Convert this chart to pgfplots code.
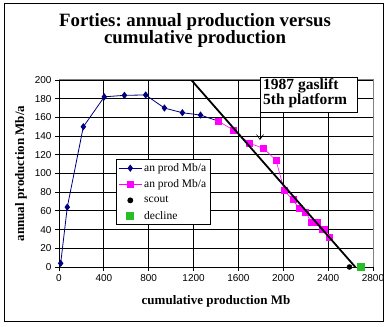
\documentclass[border=0pt]{standalone}
\usepackage{fontspec}
\setmainfont{Liberation Serif}
\setsansfont{Liberation Sans}
\usepackage{pgfplots}
\pgfplotsset{compat=1.18}
\usetikzlibrary{arrows.meta}
\definecolor{navy}{RGB}{0,0,128}
\definecolor{mag}{RGB}{255,0,255}
\definecolor{dgreen}{RGB}{40,190,40}
\frenchspacing
\begin{document}
\begin{tikzpicture}[x=1pt,y=1pt]
\useasboundingbox (0,0) rectangle (390,326);
\draw[line width=1pt] (4,5) rectangle (383,322);
\node[anchor=base, inner sep=0, font=\bfseries\fontsize{18.8}{19}\selectfont] at (195,299) {Forties: annual production versus};
\node[anchor=base, inner sep=0, font=\bfseries\fontsize{18.8}{19}\selectfont] at (195,282) {cumulative production};
\begin{axis}[
  scale only axis, width=314pt, height=187pt,
  anchor=south west, at={(59pt,59pt)},
  xmin=0, xmax=2800, ymin=0, ymax=200,
  xtick={0,400,...,2800}, ytick={0,20,...,200},
  axis x line*=bottom, axis y line*=left,
  axis line style={-, black, line width=0.8pt},
  grid=major, major grid style={black, line width=0.8pt},
  tick align=outside, major tick length=4pt,
  tick style={black, line width=0.8pt},
  /pgf/number format/assume math mode=true,
  /pgf/number format/1000 sep={},
  ticklabel style={font=\sffamily\fontsize{10}{10}\selectfont},
  xlabel={cumulative production Mb},
  ylabel={annual production Mb/a},
  xlabel style={at={(rel axis cs:0.5,-0.182)}, anchor=center, font=\bfseries\fontsize{13}{13}\selectfont},
  ylabel style={at={(rel axis cs:-0.121,0.5)}, anchor=center, font=\bfseries\fontsize{13}{13}\selectfont},
  clip mode=individual,
  legend cell align=left,
  legend image code/.code={\draw[mark repeat=2,mark phase=2] plot coordinates {(0pt,0pt)(11.5pt,0pt)(23pt,0pt)};},
  legend style={at={(rel axis cs:0.1815,0.5775)}, anchor=north west, draw=black, line width=0.8pt, fill=white,
    font=\fontsize{11.5}{12}\selectfont, inner sep=2pt, row sep=3pt},
]
\addplot[navy, line width=0.8pt, mark=diamond*, mark size=3pt, mark options={solid, fill=navy}]
  coordinates {(15,4)(74,64)(217,150)(404,182)(583,183.6)(773,184)(940,170)(1100,165)(1262,162.5)(1421,156)};
\addlegendentry{an prod Mb/a}
\addplot[mag, line width=0.6pt, mark=square*, mark size=3pt, mark options={solid, fill=mag}]
  coordinates {(1421,156)(1555,146.5)(1698,132.3)(1823,127)(1936,114)(2010,81.5)(2085,72)(2141,62.7)(2200,59)(2250,47.5)(2300,48)(2345,40)(2370,40)(2411,31.4)};
\addlegendentry{an prod Mb/a}
\addplot[black, line width=1.8pt, forget plot] coordinates {(1180,200)(2642,0)};
\addplot[black, only marks, mark=*, mark size=2.5pt] coordinates {(2590,0)};
\addlegendentry{scout}
\addplot[dgreen, only marks, mark=square*, mark size=3.5pt, mark options={fill=dgreen}] coordinates {(2691,0)};
\addlegendentry{decline}
\draw[gray, line width=1pt] (rel axis cs:0,1) -- (rel axis cs:1,1) -- (rel axis cs:1,0);
\end{axis}
\draw[line width=0.8pt, fill=white] (260,214) rectangle (357,249);
\node[anchor=base west, inner sep=0, font=\bfseries\fontsize{15.5}{16}\selectfont] at (263,236) {1987 gaslift};
\node[anchor=base west, inner sep=0, font=\bfseries\fontsize{15.5}{16}\selectfont] at (263,221) {5th platform};
\draw[line width=0.6pt, -{Straight Barb[length=5pt,width=7pt]}] (260,214) -- (260,186);
\end{tikzpicture}
\end{document}
